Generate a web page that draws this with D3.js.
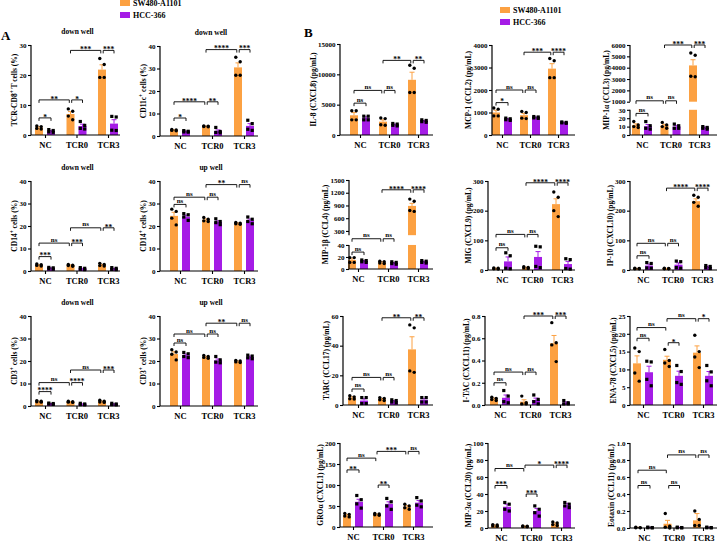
<!DOCTYPE html>
<html><head><meta charset="utf-8">
<script src="https://cdn.jsdelivr.net/npm/d3@7"></script>
<style>
body{margin:0;background:#fff}
svg{display:block}
text{font-family:"Liberation Serif","Times New Roman",serif;font-weight:bold;fill:#000}
</style>
</head><body><svg id="c" width="721" height="545"></svg>
<script>
// ---------------- DATA ----------------
const categories = ["NC","TCR0","TCR3"];
const seriesNames = ["SW480-A1101","HCC-366"];
const panelKeys = ["cd8","cd11c","cd14down","cd14up","cd3down","cd3up","il8","mcp1","mip1a","mip1b","mig","ip10","tarc","itac","ena78","groa","mip3a","eotaxin"];
const titles = ["down well","down well","down well","up well","down well","up well","","","","","","","","","","","",""];
const yLabels = ["TCR-CD8{+} T cells (%)","CD11c{+} cells (%)","CD14{+} cells (%)","CD14{+} cells (%)","CD3{+} cells (%)","CD3{+} cells (%)",
  "IL-8 (CXCL8) (pg/mL)","MCP-1 (CCL2) (pg/mL)","MIP-1α (CCL3) (pg/mL)","MIP-1β (CCL4)  (pg/mL)","MIG (CXCL9) (pg/mL)","IP-10 (CXCL10) (pg/mL)",
  "TARC (CCL17) (pg/mL)","I-TAC (CXCL11) (pg/mL)","ENA-78 (CXCL5) (pg/mL)","GROα (CXCL1) (pg/mL)","MIP-3α (CCL20) (pg/mL)","Eotaxin (CCL11) (pg/mL)"];
// tick labels; broken axes give two segments
const yTicks = [[0,10,20,30],[0,10,20,30,40],[0,10,20,30,40],[0,10,20,30,40],[0,10,20,30,40],[0,10,20,30,40],
  [0,5000,10000,15000],[0,1000,2000,3000,4000],[[0,10,20,30],[1000,2000,3000,4000,5000,6000]],[[0,20,40],[300,600,900,1200,1500]],
  [0,100,200,300],[0,100,200,300],[0,20,40,60],[0,0.2,0.4,0.6,0.8],[0,5,10,15,20,25],
  [0,50,100,150,200],[0,20,40,60,80,100],[0,0.2,0.4,0.6,0.8,1.0]];
// lower limit of upper segment for broken axes
const brokenFloors = [null,null,null,null,null,null,null,null,1000,200,null,null,null,null,null,null,null,null];

const meanOrange = [[2.5,7.0,21.8],[2.6,4.3,30.5],[2.6,2.5,2.7],[24.5,22.8,21.2],[2.0,1.8,2.0],[23.1,21.8,19.8],
  [3250,2200,9100],[1000,880,2950],[11.8,11.2,4200],[15,11,890],[5,8,222],[5,5,232],
  [5,4,37.5],[0.055,0.03,0.555],[11.7,12.7,14.7],[28,30,48],[3,2,5],[0.005,0.05,0.09]];
const meanPurple = [[1.3,3.0,3.8],[2.0,2.2,4.5],[1.2,1.0,1.0],[24.2,21.8,22.5],[1.0,0.8,0.8],[22.6,20.3,21.8],
  [2800,1700,2300],[700,780,550],[10.5,10,8.5],[13,10,12],[29,44,20],[15,18,10],
  [3,2.5,3.5],[0.065,0.045,0.02],[9.2,8.2,8.2],[60,55,58],[25,20,27],[0.005,0.005,0.005]];
const semOrange = [[0.25,0.8,1.6],[0.15,0.1,2.0],[0.2,0.2,0.25],[1.6,0.4,0.2],[0.15,0.1,0.2],[1.0,0.3,0.2],
  [450,300,1250],[100,80,220],[1.5,1.5,500],[2,1,60],[1.5,1.5,18],[0.5,0.5,8],
  [0.6,0.4,8.5],[0.008,0.017,0.07],[2.1,1.0,1.9],[2,1,3],[0.5,0.3,1],[0.003,0.04,0.08]];
const semPurple = [[0.25,0.6,1.3],[0.2,0.5,1.0],[0.2,0.2,0.2],[0.6,0.5,0.6],[0.1,0.15,0.15],[0.5,0.6,0.4],
  [200,100,100],[30,20,15],[2,1.5,1],[1,1,1],[15,18,9],[5,6,3],
  [1.2,0.5,0.8],[0.025,0.017,0.008],[1.7,1.3,1.2],[6,5,5],[3,3,2],[0.002,0.002,0.002]];
const dotsOrange = [
  [[3,2.8,2.2,2.0],[8.7,7.9,6.3,5.1],[25.5,23.5,19.2,19.2]],
  [[2.9,2.7,2.5,2.3],[4.5,4.4,4.2,4.1],[35,33,27,27]],
  [[3.1,2.8,2.5,2.2],[2.9,2.6,2.4,2.1],[3.4,2.9,2.4,2.2]],
  [[27.5,26.5,23.5,20.5],[23.8,23,22.3,22],[21.6,21.3,21,20.8]],
  [[2.4,2.1,1.9,1.7],[2.1,1.9,1.7,1.6],[2.6,2.1,1.8,1.6]],
  [[25,24,23,20.5],[22.5,22,21.6,21.2],[20.3,20,19.6,19.3]],
  [[4000,4000,2500,2500],[2800,2700,1700,1600],[11500,11000,7000,7000]],
  [[1200,1150,850,850],[1050,1000,750,730],[3400,3300,2550,2550]],
  [[16,12,10,9],[15,12,10,8],[5300,5100,3250,3200]],
  [[19,19,11,11],[13,12,10,9],[1050,1000,780,760]],
  [[7,6,4,3],[11,9,7,5],[263,245,200,180]],
  [[6,5,4,4],[6,5,4,4],[252,245,228,215]],
  [[6.2,5.5,4.2,4.0],[5,4.5,3.5,3],[54,52,23,22]],
  [[0.07,0.06,0.05,0.04],[0.08,0.02,0.01,0.01],[0.74,0.56,0.54,0.39]],
  [[16,15,9,6.7],[15.6,12.5,11.8,10.8],[19.6,15,13.5,10.5]],
  [[32,30,26,24],[32,31,29,28],[54,50,46,42]],
  [[4,3.5,2.5,2],[2.5,2.2,1.8,1.5],[7,6,4,3]],
  [[0.01,0.005,0.003,0.002],[0.17,0.02,0.01,0.0],[0.2,0.1,0.03,0.03]]
];
const dotsPurple = [
  [[1.8,1.5,1.0,0.9],[4.5,3.2,2.2,2.0],[6.2,6.0,1.6,1.5]],
  [[2.4,2.1,1.8,1.7],[3.8,2.0,1.6,1.4],[7,5.5,3,2.5]],
  [[1.6,1.4,1.0,0.8],[1.5,1.2,0.8,0.6],[1.5,1.2,0.7,0.6]],
  [[25.5,25,24,22.5],[23.2,22,21.5,20.6],[24,23,22,21]],
  [[1.3,1.1,0.9,0.7],[1.2,0.9,0.6,0.5],[1.2,0.9,0.6,0.5]],
  [[23.8,23.2,22,21.5],[22,20.5,19.5,19.2],[22.6,22.2,21.4,21]],
  [[3100,3100,2500,2500],[1900,1800,1600,1500],[2500,2400,2200,2100]],
  [[750,720,680,650],[820,800,760,740],[580,560,540,520]],
  [[16,11,8,7],[13,11,8,8],[10,9,8,7]],
  [[15,14,12,11],[12,11,9,8],[14,13,11,10]],
  [[58,48,6,4],[80,78,12,8],[38,35,5,3]],
  [[25,22,7,6],[30,28,8,6],[15,12,8,5]],
  [[5,5,1,1],[3.5,3,2,1.5],[5,5,2,2]],
  [[0.13,0.08,0.03,0.02],[0.09,0.05,0.03,0.01],[0.04,0.02,0.01,0.01]],
  [[12.3,12.1,7.2,5.4],[11.1,9.4,6.3,5.8],[11.1,9.3,6.8,5.4]],
  [[75,65,55,45],[68,60,50,42],[70,62,52,48]],
  [[30,28,22,20],[26,22,18,14],[30,28,26,24]],
  [[0.01,0.005,0.003,0.002],[0.01,0.005,0.003,0.002],[0.01,0.005,0.003,0.002]]
];
// significance labels: [NC pair, NC–TCR0, TCR0 pair, TCR0–TCR3, TCR3 pair]
const sigLabels = [
  ["*","**","*","***","***"],["*","****","**","****","***"],["***","ns","***","ns","**"],["ns","ns","ns","**","ns"],
  ["****","ns","****","ns","***"],["ns","ns","ns","**","ns"],["ns","ns","ns","**","**"],["*","ns","ns","***","****"],
  ["ns","ns","ns","***","***"],["ns","ns","ns","****","****"],["ns","ns","ns","****","****"],["ns","ns","ns","****","****"],
  ["ns","ns","ns","**","**"],["ns","ns","ns","***","***"],["ns","ns","*","ns","*"],["**","ns","**","***","ns"],
  ["***","ns","***","*","****"],["ns","ns","ns","ns","ns"]];

// ---------------- LAYOUT (pixels / fractions) ----------------
const layout = [
  {ax:31,c0:45,c2:108,end:120,top:45,bottom:135},
  {ax:160,c0:180,c2:244,end:258,top:46,bottom:136},
  {ax:31,c0:45,c2:108,end:120,top:181,bottom:271},
  {ax:160,c0:180,c2:244,end:258,top:181,bottom:271},
  {ax:31,c0:45,c2:108,end:120,top:316,bottom:406},
  {ax:160,c0:180,c2:244,end:258,top:316,bottom:406},
  {ax:340,c0:360,c2:418,end:433,top:44,bottom:135},
  {ax:492,c0:502,c2:558,end:575,top:45,bottom:135},
  {ax:630,c0:642,c2:699,end:717,top:45,bottom:135,brk:[0.28,0.37]},
  {ax:349,c0:358,c2:418,end:433,top:180,bottom:269,brk:[0.27,0.38]},
  {ax:488,c0:502,c2:562,end:575,top:181,bottom:270},
  {ax:630,c0:643,c2:702,end:717,top:181,bottom:270},
  {ax:343,c0:358,c2:418,end:433,top:316,bottom:405},
  {ax:485,c0:500,c2:560,end:575,top:316,bottom:405},
  {ax:630,c0:643,c2:703,end:717,top:316,bottom:405},
  {ax:340,c0:353,c2:413,end:433,top:443,bottom:527},
  {ax:488,c0:501,c2:561,end:575,top:443,bottom:528},
  {ax:630,c0:644,c2:703,end:717,top:443,bottom:528}
];
// bracket heights as fraction of plot height: [NC pair, NC–TCR0, TCR0 pair, TCR0–TCR3, TCR3 pair]
const bracketFrac = [
  [0.19,0.39,0.39,0.94,0.94],[0.2,0.38,0.38,0.96,0.96],[0.16,0.31,0.31,0.48,0.48],[0.74,0.82,0.82,0.96,0.96],
  [0.16,0.26,0.26,0.4,0.4],[0.7,0.8,0.8,0.92,0.92],[0.35,0.49,0.49,0.82,0.82],[0.36,0.5,0.5,0.92,0.92],
  [0.24,0.38,0.38,1.0,1.0],[0.19,0.34,0.34,0.89,0.89],[0.25,0.4,0.4,0.98,0.98],[0.16,0.3,0.3,0.92,0.92],
  [0.18,0.31,0.31,0.98,0.98],[0.25,0.37,0.37,1.0,1.0],[0.75,0.87,0.7,0.97,0.97],[0.68,0.82,0.5,0.9,0.9],
  [0.5,0.7,0.4,0.74,0.74],[0.5,0.68,0.5,0.86,0.86]];

const colors = ["#FCA142","#A51CE6"];

// ---------------- DRAW ----------------
const svg = d3.select("#c");

function addRich(textSel, str){
  const parts = str.split(/(\{[^}]*\})/);
  parts.forEach(p=>{
    if(!p) return;
    if(p.startsWith("{")){
      textSel.append("tspan").attr("baseline-shift","super").attr("font-size","0.7em").text(p.slice(1,-1));
    } else textSel.append("tspan").text(p);
  });
}

panelKeys.forEach((key,i)=>drawPanel(i));

function drawPanel(i){
  const L = layout[i];
  const g = svg.append("g").attr("class","panel-"+panelKeys[i]);
  const H = L.bottom - L.top;
  const x = d3.scalePoint().domain(categories).range([L.c0, L.c2]);
  const sub = d3.scaleBand().domain(seriesNames).range([-10,10]).paddingInner(1/3);
  const bw = sub.bandwidth();

  let segs;
  if(!L.brk){
    const t = yTicks[i];
    segs = [{s:d3.scaleLinear().domain([t[0], t[t.length-1]]).range([L.bottom, L.top]), ticks:t}];
  } else {
    const t0 = yTicks[i][0], t1 = yTicks[i][1];
    segs = [
      {s:d3.scaleLinear().domain([t0[0], t0[t0.length-1]]).range([L.bottom, L.bottom - L.brk[0]*H]), ticks:t0},
      {s:d3.scaleLinear().domain([brokenFloors[i], t1[t1.length-1]]).range([L.bottom - L.brk[1]*H, L.top]), ticks:t1}
    ];
  }
  function yPos(v){
    if(segs.length===1) return segs[0].s(v);
    const lo = segs[0].s.domain()[1], hi = segs[1].s.domain()[0];
    if(v<=lo) return segs[0].s(v);
    if(v>=hi) return segs[1].s(v);
    return (segs[0].s(lo)+segs[1].s(hi))/2;
  }
  const allTicks = segs.flatMap(s=>s.ticks);
  const isFrac = allTicks.some(v=>Math.round(v)!==v);
  const fmt = isFrac ? d3.format(".1f") : d3.format("d");

  const means = [meanOrange[i], meanPurple[i]];
  const sems = [semOrange[i], semPurple[i]];
  const dots = [dotsOrange[i], dotsPurple[i]];
  seriesNames.forEach((sn,si)=>{
    categories.forEach((c,ci)=>{
      const cx = x(c) + sub(sn) + bw/2;
      const v = means[si][ci];
      const col = colors[si];
      segs.forEach(seg=>{
        const [d0,d1] = seg.s.domain();
        if(v<=d0) return;
        const vv = Math.min(v,d1);
        g.append("rect").attr("x",cx-bw/2).attr("width",bw)
          .attr("y",seg.s(vv)).attr("height",seg.s(d0)-seg.s(vv)).attr("fill",col);
      });
      const yt = yPos(v + sems[si][ci]), ym = yPos(v);
      g.append("line").attr("x1",cx).attr("x2",cx).attr("y1",ym).attr("y2",yt).attr("stroke",col).attr("stroke-width",1);
      g.append("line").attr("x1",cx-2.5).attr("x2",cx+2.5).attr("y1",yt).attr("y2",yt).attr("stroke",col).attr("stroke-width",1);
      const offs = [-2.2,2.2,-2.2,2.2];
      dots[si][ci].forEach((d,di)=>{
        const px = cx + offs[di], py = yPos(d);
        if(si===0) g.append("circle").attr("cx",px).attr("cy",py).attr("r",1.7).attr("fill","#000");
        else g.append("rect").attr("x",px-1.6).attr("y",py-1.6).attr("width",3.2).attr("height",3.2).attr("fill","#000");
      });
    });
  });

  const axG = g.append("g");
  segs.forEach(seg=>{
    const a = axG.append("g").attr("transform",`translate(${L.ax},0)`)
      .call(d3.axisLeft(seg.s).tickValues(seg.ticks).tickFormat(fmt).tickSize(3).tickPadding(1.5));
    a.select(".domain").attr("stroke-width",1.2).attr("d",`M0,${seg.s.range()[0]}V${seg.s.range()[1]}`);
    a.selectAll(".tick line").attr("stroke-width",1.1);
    a.selectAll(".tick text").attr("font-size",7).attr("font-family","Liberation Serif").attr("font-weight","bold");
  });
  const xa = g.append("g").attr("transform",`translate(0,${L.bottom})`)
    .call(d3.axisBottom(x).tickSize(3).tickPadding(4));
  xa.select(".domain").attr("d",`M${L.ax},0H${L.end}`).attr("stroke-width",1.2);
  xa.selectAll(".tick line").attr("stroke-width",1.1);
  xa.selectAll(".tick text").attr("font-size",8.5).attr("font-family","Liberation Serif").attr("font-weight","bold");

  const bb = axG.node().getBBox();
  const ly = (L.top+L.bottom)/2;
  const lab = g.append("text").attr("transform",`translate(${bb.x-2.5},${ly}) rotate(-90)`)
    .attr("text-anchor","middle").attr("font-size",7.5);
  addRich(lab, yLabels[i]);

  if(titles[i]) g.append("text").attr("x",(L.ax+L.end)/2+2).attr("y",L.top-11).attr("text-anchor","middle").attr("font-size",7.5).text(titles[i]);

  const bf = bracketFrac[i];
  const xo = c=>x(c)+sub(seriesNames[0])+bw/2;
  const xp = c=>x(c)+sub(seriesNames[1])+bw/2;
  const spans = [
    [xo("NC"),xp("NC")],[xo("NC"),xo("TCR0")-1.2],[xo("TCR0")+1.2,xp("TCR0")],
    [xo("TCR0"),xo("TCR3")-1.2],[xo("TCR3")+1.2,xp("TCR3")]];
  spans.forEach((sp,bi)=>{
    const yy = L.bottom - bf[bi]*H;
    g.append("path").attr("d",`M${sp[0]},${yy+3}V${yy}H${sp[1]}V${yy+3}`)
      .attr("fill","none").attr("stroke","#000").attr("stroke-width",0.9);
    const lbl = sigLabels[i][bi];
    g.append("text").attr("x",(sp[0]+sp[1])/2).attr("y", lbl==="ns" ? yy-1.5 : yy+1.8)
      .attr("text-anchor","middle").attr("font-size", lbl==="ns"?7:7.5).attr("fill","#000").style("fill","#000").text(lbl);
  });
}

function legend(x0,y0,gap){
  seriesNames.forEach((s,si)=>{
    svg.append("rect").attr("x",x0).attr("y",y0+si*gap-5).attr("width",10).attr("height",6).attr("fill",colors[si]);
    svg.append("text").attr("x",x0+13).attr("y",y0+si*gap+1).attr("font-size",8).text(s);
  });
}
legend(120,5,12);
legend(500,12,12);

svg.append("text").attr("x",1).attr("y",40).attr("font-size",13).text("A");
svg.append("text").attr("x",304).attr("y",37).attr("font-size",13).text("B");
</script>
</body></html>
